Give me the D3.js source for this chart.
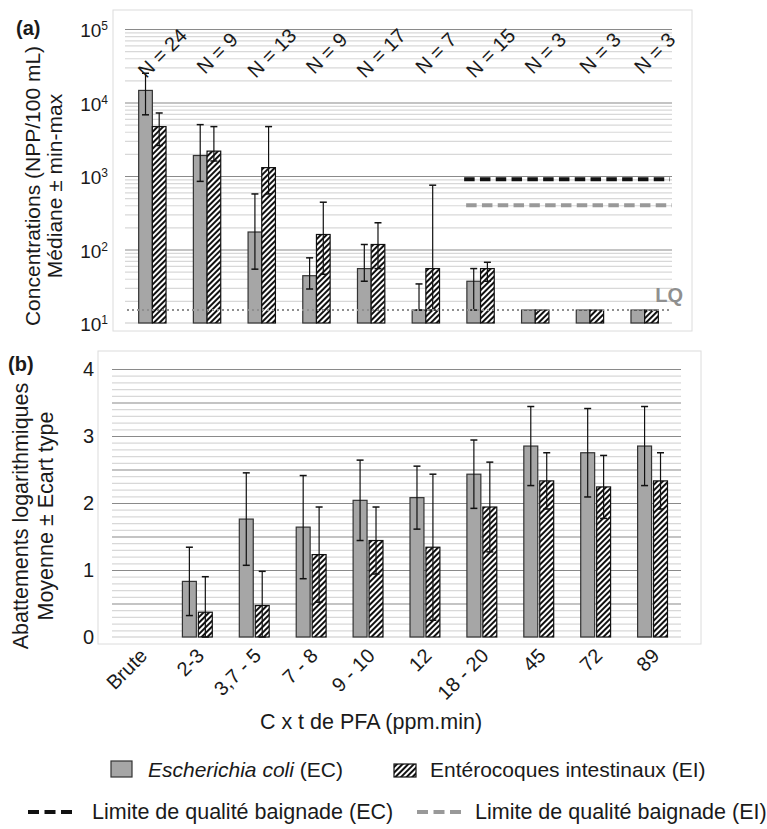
<!DOCTYPE html>
<html>
<head>
<meta charset="utf-8">
<script src="https://cdn.jsdelivr.net/npm/d3@7"></script>
<style>
body { margin: 0; background: #fff; }
text { font-family: "Liberation Sans", Arial, sans-serif; fill: #1a1a1a; }
</style>
</head>
<body>
<svg id="chart" width="767" height="829"></svg>
<script>
const categories = ["Brute", "2-3", "3,7 - 5", "7 - 8", "9 - 10", "12", "18 - 20", "45", "72", "89"];
const nCounts = [24, 9, 13, 9, 17, 7, 15, 3, 3, 3];

// (a) concentrations NPP/100 mL : median, min, max
const ecMedian = [14600, 1900, 173, 44, 55, 15, 37, 15, 15, 15];
const ecMin    = [6800, 845, 54, 29, 37, 15, 15, null, null, null];
const ecMax    = [25000, 5000, 570, 77, 117, 34, 55, null, null, null];
const eiMedian = [4700, 2180, 1300, 160, 117, 55, 55, 15, 15, 15];
const eiMin    = [2600, 1600, 570, 46, 55, 15, 37, null, null, null];
const eiMax    = [7200, 4700, 4700, 440, 231, 750, 67, null, null, null];
const limitEC = 900;
const limitEI = 400;
const lq = 15;
const logTicks = [10, 100, 1000, 10000, 100000];

// (b) abattements logarithmiques : moyenne, ecart type
const ecMean = [null, 0.83, 1.76, 1.64, 2.04, 2.08, 2.43, 2.85, 2.75, 2.85];
const ecSd   = [null, 0.51, 0.69, 0.77, 0.60, 0.47, 0.51, 0.59, 0.66, 0.59];
const eiMean = [null, 0.37, 0.47, 1.23, 1.44, 1.34, 1.94, 2.33, 2.24, 2.33];
const eiSd   = [null, 0.53, 0.51, 0.71, 0.50, 1.09, 0.67, 0.42, 0.47, 0.42];
const linTicks = [0, 1, 2, 3, 4];

const svg = d3.select("#chart");
const defs = svg.append("defs");
const pat = defs.append("pattern")
    .attr("id", "hatch")
    .attr("patternUnits", "userSpaceOnUse")
    .attr("width", 4).attr("height", 4)
    .attr("patternTransform", "rotate(45)");
pat.append("rect").attr("width", 4).attr("height", 4).attr("fill", "#fff");
pat.append("line")
    .attr("x1", 1).attr("y1", 0).attr("x2", 1).attr("y2", 4)
    .attr("stroke", "#111").attr("stroke-width", 2);

const MAJOR = "#8a8a8a", MINOR = "#d8d8d8", EC_FILL = "#a6a6a6";

function gridLines(g, scale, values, x0, width, color) {
    g.append("g")
        .attr("transform", "translate(" + x0 + ",0)")
        .call(d3.axisLeft(scale).tickValues(values).tickSize(-width).tickFormat(""))
        .call(s => s.select(".domain").remove())
        .call(s => s.selectAll("line").attr("stroke", color).attr("stroke-width", 1.2));
}

function errorBar(g, x, y1, y2, cap) {
    g.append("line").attr("x1", x).attr("x2", x).attr("y1", y1).attr("y2", y2)
        .attr("stroke", "#111").attr("stroke-width", 1.2);
    [y1, y2].forEach(y => g.append("line")
        .attr("x1", x - cap / 2).attr("x2", x + cap / 2).attr("y1", y).attr("y2", y)
        .attr("stroke", "#111").attr("stroke-width", 1.5));
}

// ---------- panel (a)
svg.append("rect").attr("x", 113).attr("y", 10).attr("width", 579).attr("height", 321)
    .attr("fill", "none").attr("stroke", "#dcdcdc");

const xA = d3.scaleBand().domain(categories).range([125, 672]);
const yA = d3.scaleLog().domain([10, 1e5]).range([323, 29]);
const gA = svg.append("g");
const wA = xA.range()[1] - xA.range()[0];

gridLines(gA, yA, yA.ticks().filter(v => !logTicks.includes(v)), 125, wA, MINOR);
gridLines(gA, yA, logTicks.slice(1), 125, wA, MAJOR);
gA.append("line").attr("x1", 125).attr("x2", 672).attr("y1", yA(10)).attr("y2", yA(10))
    .attr("stroke", "#c8c8c8").attr("stroke-width", 1.2);

logTicks.forEach(v => {
    const t = gA.append("text").attr("x", 108).attr("y", yA(v) + 8)
        .attr("text-anchor", "end").attr("font-size", 19);
    t.append("tspan").text("10");
    t.append("tspan").attr("dy", -7).attr("font-size", 12).text(Math.round(Math.log10(v)));
});

const bwA = xA.bandwidth() * 0.25;
const cA = d => xA(d) + xA.bandwidth() / 2;

gA.selectAll(".barEC").data(categories).join("rect")
    .attr("x", d => cA(d) - bwA)
    .attr("y", (d, i) => yA(ecMedian[i]))
    .attr("width", bwA)
    .attr("height", (d, i) => yA(10) - yA(ecMedian[i]))
    .attr("fill", EC_FILL).attr("stroke", "#333").attr("stroke-width", 1.2);
gA.selectAll(".barEI").data(categories).join("rect")
    .attr("x", d => cA(d))
    .attr("y", (d, i) => yA(eiMedian[i]))
    .attr("width", bwA)
    .attr("height", (d, i) => yA(10) - yA(eiMedian[i]))
    .attr("fill", "url(#hatch)").attr("stroke", "#111").attr("stroke-width", 1.2);

categories.forEach((d, i) => {
    if (ecMax[i] != null) errorBar(gA, cA(d) - bwA / 2, yA(ecMin[i]), yA(ecMax[i]), 7);
    if (eiMax[i] != null) errorBar(gA, cA(d) + bwA / 2, yA(eiMin[i]), yA(eiMax[i]), 7);
});

// LQ
gA.append("line").attr("x1", 127).attr("x2", 672).attr("y1", yA(lq)).attr("y2", yA(lq))
    .attr("stroke", "#8f8f8f").attr("stroke-width", 2).attr("stroke-dasharray", "2,3");
gA.append("text").attr("x", 683).attr("y", yA(lq) - 8).attr("text-anchor", "end")
    .attr("font-size", 20).attr("font-weight", "bold").style("fill", "#8f8f8f").text("LQ");

// limites baignade
const limStart = xA("18 - 20") + xA.step() * 0.2;
gA.append("line").attr("x1", limStart).attr("x2", 670).attr("y1", yA(limitEC)).attr("y2", yA(limitEC))
    .attr("stroke", "#111").attr("stroke-width", 4).attr("stroke-dasharray", "10.5,5.3");
gA.append("line").attr("x1", limStart + 2).attr("x2", 672).attr("y1", yA(limitEI)).attr("y2", yA(limitEI))
    .attr("stroke", "#999").attr("stroke-width", 4).attr("stroke-dasharray", "10.5,5.3");

// N labels
gA.selectAll(".nlab").data(categories).join("text")
    .attr("transform", d => "translate(" + (cA(d) + 10) + ",53) rotate(-45)")
    .attr("text-anchor", "middle").attr("dy", "0.35em").attr("font-size", 20)
    .text((d, i) => "N = " + nCounts[i]);

svg.append("text").attr("x", 16).attr("y", 35).attr("font-size", 20).attr("font-weight", "bold").text("(a)");
const yTitleA = svg.append("text").attr("transform", "translate(0,186) rotate(-90)")
    .attr("text-anchor", "middle").attr("font-size", 21);
yTitleA.append("tspan").attr("x", 0).attr("y", 40).text("Concentrations (NPP/100 mL)");
yTitleA.append("tspan").attr("x", 0).attr("y", 62).text("Médiane ± min-max");

// ---------- panel (b)
svg.append("rect").attr("x", 98).attr("y", 351).attr("width", 603).attr("height", 293)
    .attr("fill", "none").attr("stroke", "#dcdcdc");

const xB = d3.scaleBand().domain(categories).range([112, 681]);
const yB = d3.scaleLinear().domain([0, 4]).range([637, 369]);
const gB = svg.append("g");
const wB = xB.range()[1] - xB.range()[0];

const minorB = d3.range(1, 40).map(v => v / 10).filter(v => Math.round(v * 10) % 5 !== 0);
const majorB = d3.range(1, 9).map(v => v / 2);
gridLines(gB, yB, minorB, 112, wB, MINOR);
gridLines(gB, yB, majorB, 112, wB, MAJOR);
gB.append("line").attr("x1", 112).attr("x2", 681).attr("y1", yB(0)).attr("y2", yB(0))
    .attr("stroke", "#c8c8c8").attr("stroke-width", 1.2);

gB.selectAll(".ytick").data(linTicks).join("text")
    .attr("x", 94).attr("y", d => yB(d) + 7).attr("text-anchor", "end").attr("font-size", 20)
    .text(d => d);

const bwB = xB.bandwidth() * 0.245;
const cB = d => xB(d) + xB.bandwidth() / 2;
const validB = categories.filter((d, i) => ecMean[i] != null);
const idx = d => categories.indexOf(d);

gB.selectAll(".barEC").data(validB).join("rect")
    .attr("x", d => cB(d) - 1 - bwB)
    .attr("y", d => yB(ecMean[idx(d)]))
    .attr("width", bwB)
    .attr("height", d => yB(0) - yB(ecMean[idx(d)]))
    .attr("fill", EC_FILL).attr("stroke", "#333").attr("stroke-width", 1.2);
gB.selectAll(".barEI").data(validB).join("rect")
    .attr("x", d => cB(d) + 1)
    .attr("y", d => yB(eiMean[idx(d)]))
    .attr("width", bwB)
    .attr("height", d => yB(0) - yB(eiMean[idx(d)]))
    .attr("fill", "url(#hatch)").attr("stroke", "#111").attr("stroke-width", 1.2);

validB.forEach(d => {
    const i = idx(d);
    errorBar(gB, cB(d) - 1 - bwB / 2, yB(Math.max(0, ecMean[i] - ecSd[i])), yB(ecMean[i] + ecSd[i]), 7);
    errorBar(gB, cB(d) + 1 + bwB / 2, yB(Math.max(0, eiMean[i] - eiSd[i])), yB(eiMean[i] + eiSd[i]), 7);
});

gB.selectAll(".xlab").data(categories).join("text")
    .attr("transform", d => "translate(" + (cB(d) + 8) + ",657) rotate(-45)")
    .attr("text-anchor", "end").attr("font-size", 20)
    .text(d => d);

svg.append("text").attr("x", 8).attr("y", 371).attr("font-size", 20).attr("font-weight", "bold").text("(b)");
const yTitleB = svg.append("text").attr("transform", "translate(0,516) rotate(-90)")
    .attr("text-anchor", "middle").attr("font-size", 21.5);
yTitleB.append("tspan").attr("x", 0).attr("y", 28).text("Abattements logarithmiques");
yTitleB.append("tspan").attr("x", 0).attr("y", 53).text("Moyenne ± Ecart type");

svg.append("text").attr("x", 371).attr("y", 729).attr("text-anchor", "middle")
    .attr("font-size", 21.5).text("C x t de PFA (ppm.min)");

// ---------- legend
const lg = svg.append("g");
lg.append("rect").attr("x", 111).attr("y", 761).attr("width", 21).attr("height", 16)
    .attr("fill", EC_FILL).attr("stroke", "#333").attr("stroke-width", 1.2);
const tEC = lg.append("text").attr("x", 148).attr("y", 777).attr("font-size", 21);
tEC.append("tspan").attr("font-style", "italic").text("Escherichia coli");
tEC.append("tspan").text(" (EC)");
lg.append("rect").attr("x", 394).attr("y", 764).attr("width", 22).attr("height", 13)
    .attr("fill", "url(#hatch)").attr("stroke", "#111").attr("stroke-width", 1.2);
lg.append("text").attr("x", 430).attr("y", 777).attr("font-size", 21).text("Entérocoques intestinaux (EI)");

lg.append("line").attr("x1", 28).attr("x2", 72).attr("y1", 812).attr("y2", 812)
    .attr("stroke", "#111").attr("stroke-width", 4).attr("stroke-dasharray", "11,5.5");
lg.append("text").attr("x", 92).attr("y", 819).attr("font-size", 21.5).text("Limite de qualité baignade (EC)");
lg.append("line").attr("x1", 417).attr("x2", 462).attr("y1", 812).attr("y2", 812)
    .attr("stroke", "#999").attr("stroke-width", 4).attr("stroke-dasharray", "11,5.5");
lg.append("text").attr("x", 475).attr("y", 819).attr("font-size", 21.5).text("Limite de qualité baignade (EI)");
</script>
</body>
</html>
